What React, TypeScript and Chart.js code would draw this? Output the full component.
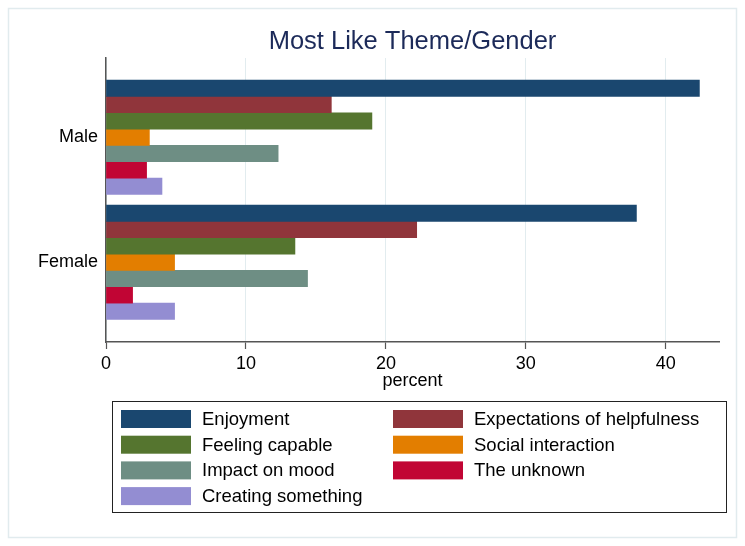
import React, { useEffect, useRef } from "react";
import { Chart, registerables } from "chart.js";

Chart.register(...registerables);

// ---- data ----
const groups = ["Male", "Female"];
const groupPositions = [0, 1];
const themes = [
  "Enjoyment",
  "Expectations of helpfulness",
  "Feeling capable",
  "Social interaction",
  "Impact on mood",
  "The unknown",
  "Creating something",
];
const maleValues = [42.4, 16.1, 19.0, 3.1, 12.3, 2.9, 4.0];
const femaleValues = [37.9, 22.2, 13.5, 4.9, 14.4, 1.9, 4.9];
const themeColors = ["#1a476f", "#90353b", "#55752f", "#e37e00", "#6e8e84", "#c10534", "#938dd2"];
const xTickValues = [0, 10, 20, 30, 40];
const chartTitle = "Most Like Theme/Gender";
const xAxisTitle = "percent";

const FONT = "'Liberation Sans', Arial, sans-serif";

const decorPlugin = {
  id: "stataDecor",
  afterDraw(chart: any) {
    const ctx = chart.ctx as CanvasRenderingContext2D;
    const ca = chart.chartArea;
    ctx.save();
    // outer frame
    ctx.strokeStyle = "#e1ebee";
    ctx.lineWidth = 1.5;
    ctx.strokeRect(8.5, 8.5, 728, 529);
    // title
    ctx.fillStyle = "#1c2a59";
    ctx.font = `25.5px ${FONT}`;
    ctx.textAlign = "center";
    ctx.textBaseline = "middle";
    ctx.fillText(chartTitle, (ca.left + ca.right) / 2, 42);
    // legend
    ctx.strokeStyle = "#222";
    ctx.lineWidth = 1;
    ctx.strokeRect(112.5, 401.5, 614, 111);
    ctx.font = `18.5px ${FONT}`;
    ctx.textAlign = "left";
    ctx.fillStyle = "#000";
    chart.data.datasets.forEach((ds: any, i: number) => {
      const col = i % 2;
      const row = Math.floor(i / 2);
      const sx = col === 0 ? 121 : 393;
      const sy = 410 + row * 25.7;
      ctx.fillStyle = ds.backgroundColor;
      ctx.fillRect(sx, sy, 70, 18);
      ctx.fillStyle = "#000";
      ctx.fillText(ds.label, sx + 81, sy + 10);
    });
    ctx.restore();
  },
};

export default function App() {
  const canvasRef = useRef<HTMLCanvasElement | null>(null);

  useEffect(() => {
    if (!canvasRef.current) return;
    const seriesByGroup = [maleValues, femaleValues];
    const chart = new Chart(canvasRef.current, {
      type: "bar",
      data: {
        datasets: themes.map((t, i) => ({
          label: t,
          data: groupPositions.map((g, gi) => ({ x: seriesByGroup[gi][i], y: g })),
          backgroundColor: themeColors[i],
          borderWidth: 0,
          barThickness: 16.35,
        })),
      },
      options: {
        indexAxis: "y",
        animation: false,
        responsive: false,
        layout: { padding: { left: 0, top: 58, right: 26, bottom: 150 } },
        plugins: {
          legend: { display: false },
          title: { display: false },
          tooltip: { enabled: false },
        },
        scales: {
          x: {
            type: "linear",
            min: 0,
            max: 43.8,
            offset: false,
            afterBuildTicks: (s: any) => {
              s.ticks = xTickValues.map((v) => ({ value: v }));
            },
            afterFit: (s: any) => {
              s.height = 54;
            },
            ticks: {
              font: { family: FONT, size: 18 },
              color: "#000",
              padding: 4,
              maxRotation: 0,
            },
            grid: {
              color: "#e2ecef",
              lineWidth: 1,
              tickLength: 7,
              tickColor: "#555",
              tickWidth: 1.2,
              offset: false,
            },
            border: { display: true, color: "#555", width: 1.5 },
            title: {
              display: true,
              text: xAxisTitle,
              font: { family: FONT, size: 18 },
              color: "#000",
              padding: { top: 0, bottom: 4 },
            },
          },
          y: {
            type: "linear",
            reverse: true,
            offset: false,
            min: -0.634,
            max: 1.638,
            afterBuildTicks: (s: any) => {
              s.ticks = groupPositions.map((v) => ({ value: v }));
            },
            afterFit: (s: any) => {
              s.width = 106;
            },
            ticks: {
              callback: (v: any) => {
                const idx = groupPositions.indexOf(Number(v));
                return idx >= 0 ? groups[idx] : "";
              },
              font: { family: FONT, size: 18 },
              color: "#000",
              padding: 8,
            },
            grid: { display: false, drawTicks: false, offset: false },
            border: { display: true, color: "#555", width: 1.5 },
          },
        },
      },
      plugins: [decorPlugin],
    } as any);
    return () => chart.destroy();
  }, []);

  return (
    <div style={{ position: "fixed", left: 0, top: 0, width: 745, height: 546, background: "#fff" }}>
      <canvas ref={canvasRef} width={745} height={546} style={{ display: "block" }} />
    </div>
  );
}
